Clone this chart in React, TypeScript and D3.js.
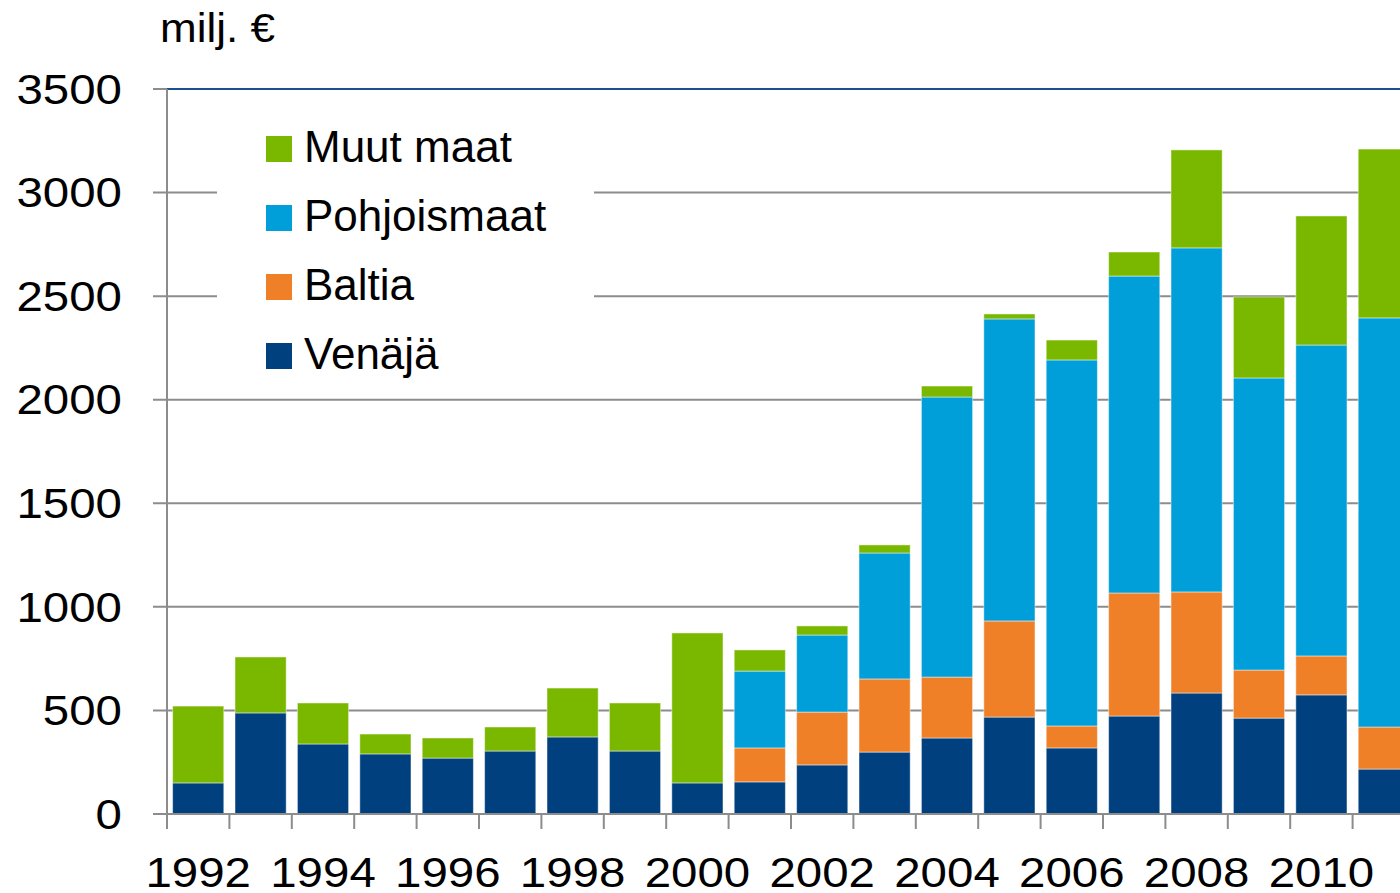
import React, { useEffect, useRef } from 'react'
import * as d3 from 'd3'

// values, milj. €
const years = [1992, 1993, 1994, 1995, 1996, 1997, 1998, 1999, 2000, 2001,
  2002, 2003, 2004, 2005, 2006, 2007, 2008, 2009, 2010, 2011]
const venaja = [150, 488, 338, 290, 270, 304, 372, 304, 150, 155,
  237, 299, 367, 468, 319, 473, 584, 463, 575, 217]
const baltia = [0, 0, 0, 0, 0, 0, 0, 0, 0, 164,
  255, 353, 294, 464, 106, 594, 488, 232, 188, 203]
const pohjoismaat = [0, 0, 0, 0, 0, 0, 0, 0, 0, 371,
  372, 608, 1352, 1458, 1767, 1530, 1661, 1410, 1501, 1975]
const muutMaat = [371, 270, 198, 96, 97, 116, 236, 232, 724, 102,
  44, 39, 53, 24, 96, 116, 473, 391, 623, 815]

const seriesKeys = ['venaja', 'baltia', 'pohjoismaat', 'muut']
const seriesNames = ['Venäjä', 'Baltia', 'Pohjoismaat', 'Muut maat']
const seriesColors = ['#00407e', '#ef8027', '#009fda', '#7ab800']
const yTicks = [0, 500, 1000, 1500, 2000, 2500, 3000, 3500]

const W = 1400
const H = 893
const FONT = '"Liberation Sans", Arial, Helvetica, sans-serif'
const STRETCH = 1.13 // axis labels in the original are a bit wider than Arial

export default function App () {
  const ref = useRef(null)

  useEffect(() => {
    const root = d3.select(ref.current)
    root.selectAll('*').remove()

    const svg = root.append('svg')
      .attr('width', W)
      .attr('height', H)
      .style('display', 'block')
      .style('font-family', FONT)

    const left = 167
    const right = 1415
    const top = 89
    const bottom = 814

    const x = d3.scaleBand()
      .domain(years.map(String))
      .range([left, right])
      .paddingInner(0.18)
      .paddingOuter(0.09)

    const y = d3.scaleLinear()
      .domain([0, 3500])
      .range([bottom, top])

    const table = years.map((yr, i) => ({
      year: String(yr),
      venaja: venaja[i],
      baltia: baltia[i],
      pohjoismaat: pohjoismaat[i],
      muut: muutMaat[i]
    }))
    const stacked = d3.stack().keys(seriesKeys)(table)

    // gridlines (with the small tick stubs left of the axis)
    svg.append('g')
      .selectAll('line')
      .data(yTicks.filter(t => t > 0 && t < 3500))
      .enter()
      .append('line')
        .attr('x1', left - 14)
        .attr('x2', W)
        .attr('y1', d => y(d))
        .attr('y2', d => y(d))
        .attr('stroke', '#8c8c8c')
        .attr('stroke-width', 2)

    // top line
    svg.append('line')
      .attr('x1', left - 14).attr('x2', left)
      .attr('y1', y(3500)).attr('y2', y(3500))
      .attr('stroke', '#8c8c8c').attr('stroke-width', 2)
    svg.append('line')
      .attr('x1', left).attr('x2', W)
      .attr('y1', y(3500)).attr('y2', y(3500))
      .attr('stroke', '#1f4e8c').attr('stroke-width', 2)

    // legend box hides the gridlines behind it
    svg.append('rect')
      .attr('x', 217).attr('y', 110)
      .attr('width', 377).attr('height', 280)
      .attr('fill', '#ffffff')

    // bars
    svg.append('g')
      .selectAll('g')
      .data(stacked)
      .enter()
      .append('g')
        .attr('fill', (d, i) => seriesColors[i])
      .selectAll('rect')
      .data(d => d.filter(s => s[1] - s[0] > 0))
      .enter()
      .append('rect')
        .attr('x', d => x(d.data.year))
        .attr('width', x.bandwidth())
        .attr('y', d => y(d[1]))
        .attr('height', d => y(d[0]) - y(d[1]))
        .attr('stroke', 'rgba(255,255,255,0.45)')
        .attr('stroke-width', 1)

    // axes
    svg.append('line')
      .attr('x1', left).attr('x2', left)
      .attr('y1', top).attr('y2', bottom + 15)
      .attr('stroke', '#8c8c8c').attr('stroke-width', 2)
    svg.append('line')
      .attr('x1', left - 14).attr('x2', W)
      .attr('y1', bottom).attr('y2', bottom)
      .attr('stroke', '#8c8c8c').attr('stroke-width', 2)

    const step = x.step()
    svg.append('g')
      .selectAll('line')
      .data(d3.range(1, years.length + 1))
      .enter()
      .append('line')
        .attr('x1', i => left + i * step)
        .attr('x2', i => left + i * step)
        .attr('y1', bottom)
        .attr('y2', bottom + 15)
        .attr('stroke', '#8c8c8c')
        .attr('stroke-width', 2)

    svg.append('g')
      .selectAll('g')
      .data(yTicks)
      .enter()
      .append('g')
        .attr('transform', d => 'translate(122,' + y(d) + ') scale(' + STRETCH + ',1)')
      .append('text')
        .attr('dy', '0.35em')
        .attr('text-anchor', 'end')
        .attr('font-size', 42)
        .attr('fill', '#000')
        .text(d => d)

    svg.append('g')
      .selectAll('g')
      .data(years.filter(yr => yr % 2 === 0))
      .enter()
      .append('g')
        .attr('transform', d => 'translate(' + (x(String(d)) + x.bandwidth() / 2) + ',887) scale(' + STRETCH + ',1)')
      .append('text')
        .attr('text-anchor', 'middle')
        .attr('font-size', 42)
        .attr('fill', '#000')
        .text(d => d)

    svg.append('g')
      .attr('transform', 'translate(160,42) scale(1.1,1)')
      .append('text')
        .attr('font-size', 40)
        .attr('fill', '#000')
        .text('milj. €')

    // legend, top to bottom in reverse stacking order
    const legendOrder = [3, 2, 1, 0]
    const legend = svg.append('g')
      .selectAll('g')
      .data(legendOrder)
      .enter()
      .append('g')
        .attr('transform', (d, i) => 'translate(266,' + (136 + i * 69) + ')')
    legend.append('rect')
      .attr('width', 26)
      .attr('height', 26)
      .attr('fill', d => seriesColors[d])
    legend.append('text')
      .attr('x', 38)
      .attr('y', 26)
      .attr('font-size', 44)
      .attr('fill', '#000')
      .text(d => seriesNames[d])
  }, [])

  return <div ref={ref} style={{ position: 'absolute', left: 0, top: 0 }} />
}
